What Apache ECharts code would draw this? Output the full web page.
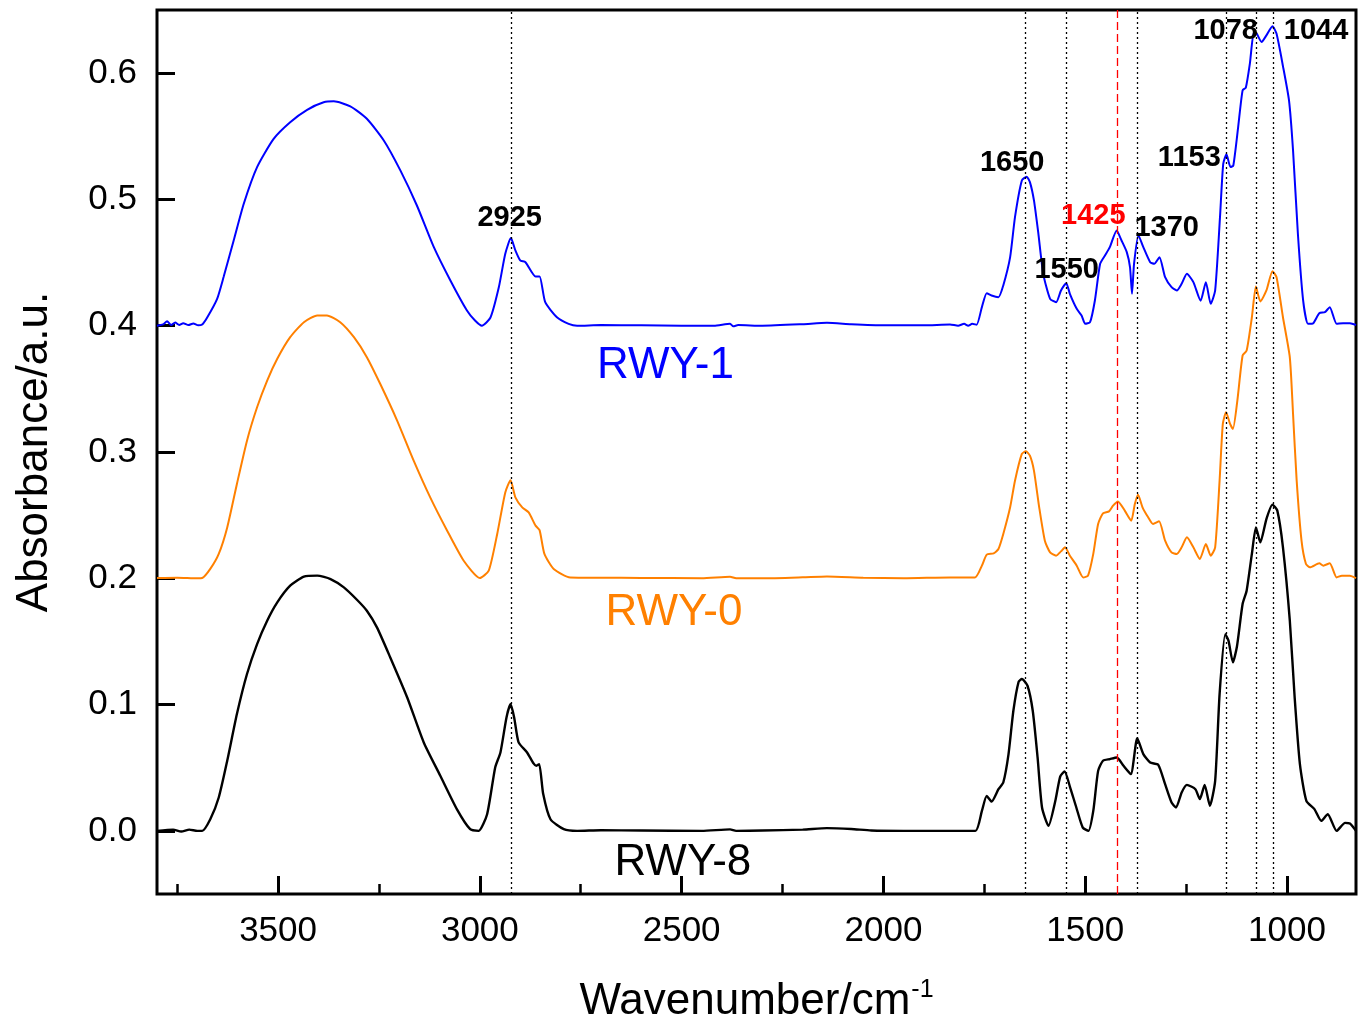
<!DOCTYPE html>
<html>
<head>
<meta charset="utf-8">
<script src="https://cdn.jsdelivr.net/npm/echarts@6/dist/echarts.min.js"></script>
<style>
  html, body { margin: 0; padding: 0; background: #fff; }
  #chart { width: 1364px; height: 1022px; }
</style>
</head>
<body>
<div id="chart"></div>
<script>
// RWY-1 (offset +0.4)
const wn1 = [3800, 3785, 3775, 3765, 3755, 3745, 3735, 3722, 3710, 3698, 3688, 3676, 3651, 3635, 3610, 3585, 3552, 3511, 3470, 3428, 3387, 3362, 3321, 3280, 3238, 3197, 3156, 3114, 3073, 3032, 3012, 2995, 2974, 2953, 2937, 2923, 2912, 2900, 2887, 2862, 2852, 2838, 2809, 2780, 2759, 2700, 2600, 2500, 2420, 2380, 2372, 2360, 2300, 2200, 2140, 2080, 2000, 1900, 1835, 1815, 1800, 1790, 1780, 1769, 1756, 1744, 1732, 1715, 1703, 1686, 1674, 1657, 1645, 1637, 1627, 1616, 1604, 1587, 1572, 1560, 1547, 1538, 1521, 1509, 1500, 1488, 1476, 1463, 1451, 1439, 1422, 1410, 1397, 1389, 1384, 1379, 1368, 1356, 1339, 1329, 1316, 1302, 1286, 1273, 1261, 1248, 1232, 1214, 1201, 1189, 1178, 1166, 1158, 1150, 1140, 1133, 1121, 1110, 1102, 1092, 1082, 1075, 1063, 1051, 1036, 1026, 1010, 995, 985, 973, 960, 948, 935, 920, 906, 894, 877, 861, 844, 829]
const abs1 = [0.400, 0.401, 0.4035, 0.4005, 0.4025, 0.4005, 0.402, 0.4005, 0.4018, 0.4003, 0.401, 0.4063, 0.4213, 0.4385, 0.4675, 0.4966, 0.5256, 0.548, 0.5612, 0.571, 0.5769, 0.5777, 0.5737, 0.5639, 0.5467, 0.523, 0.4952, 0.4622, 0.4358, 0.412, 0.4041, 0.400, 0.4063, 0.4305, 0.457, 0.4694, 0.4596, 0.4517, 0.4503, 0.439, 0.439, 0.4186, 0.4067, 0.4015, 0.400, 0.4005, 0.4003, 0.400, 0.400, 0.4015, 0.3995, 0.4005, 0.400, 0.4012, 0.4023, 0.4012, 0.4003, 0.4003, 0.401, 0.400, 0.4015, 0.400, 0.4015, 0.4008, 0.4147, 0.4258, 0.4239, 0.4226, 0.4319, 0.4543, 0.486, 0.515, 0.518, 0.5137, 0.4992, 0.4728, 0.4411, 0.4213, 0.4186, 0.4279, 0.4337, 0.4253, 0.4134, 0.4081, 0.4015, 0.4028, 0.42, 0.449, 0.4556, 0.4622, 0.4754, 0.4675, 0.4583, 0.4464, 0.4253, 0.449, 0.4715, 0.4622, 0.4503, 0.449, 0.4543, 0.4384, 0.4305, 0.4279, 0.4332, 0.4411, 0.4345, 0.4198, 0.4345, 0.4173, 0.4279, 0.486, 0.5282, 0.5357, 0.5256, 0.5269, 0.5573, 0.5864, 0.5885, 0.6075, 0.6326, 0.6313, 0.6247, 0.6299, 0.6371, 0.6313, 0.6056, 0.5784, 0.5388, 0.4728, 0.42, 0.4015, 0.402, 0.4099, 0.4107, 0.4147, 0.4015, 0.402, 0.402, 0.4006]

// RWY-0 (offset +0.2)
const wn0 = [3800, 3750, 3700, 3688, 3668, 3647, 3626, 3602, 3577, 3552, 3527, 3502, 3470, 3436, 3403, 3379, 3346, 3312, 3280, 3247, 3205, 3164, 3123, 3081, 3040, 3000, 2978, 2957, 2937, 2924, 2912, 2895, 2879, 2862, 2852, 2840, 2817, 2776, 2700, 2600, 2450, 2380, 2365, 2300, 2200, 2140, 2050, 1950, 1835, 1773, 1756, 1744, 1727, 1715, 1703, 1686, 1674, 1657, 1647, 1637, 1627, 1614, 1600, 1587, 1572, 1560, 1550, 1538, 1521, 1505, 1493, 1480, 1468, 1456, 1441, 1431, 1419, 1402, 1386, 1377, 1369, 1358, 1344, 1332, 1317, 1302, 1286, 1273, 1261, 1248, 1232, 1216, 1201, 1189, 1178, 1167, 1159, 1151, 1141, 1134, 1123, 1110, 1100, 1087, 1077, 1066, 1051, 1036, 1026, 1010, 993, 985, 976, 964, 953, 943, 920, 910, 894, 877, 864, 844, 829]
const abs0 = [0.2002, 0.2005, 0.200, 0.2002, 0.2074, 0.2193, 0.2403, 0.2747, 0.309, 0.3354, 0.3566, 0.3738, 0.3909, 0.4028, 0.4081, 0.4081, 0.4028, 0.3909, 0.3751, 0.354, 0.3249, 0.2932, 0.2641, 0.2377, 0.2139, 0.2002, 0.206, 0.2351, 0.268, 0.2776, 0.2641, 0.2562, 0.2522, 0.2417, 0.2381, 0.2193, 0.2074, 0.2007, 0.2005, 0.2003, 0.200, 0.2012, 0.200, 0.200, 0.2008, 0.2015, 0.2005, 0.200, 0.2007, 0.2007, 0.21, 0.2187, 0.2197, 0.2232, 0.2351, 0.2562, 0.2773, 0.2985, 0.3006, 0.2971, 0.2853, 0.2562, 0.2298, 0.2205, 0.2179, 0.2213, 0.2245, 0.2179, 0.21, 0.2007, 0.2021, 0.2193, 0.243, 0.2514, 0.253, 0.2575, 0.2609, 0.2536, 0.2456, 0.2589, 0.2662, 0.2562, 0.2483, 0.243, 0.2451, 0.2298, 0.2205, 0.2193, 0.2245, 0.2324, 0.2245, 0.2153, 0.2271, 0.2179, 0.2245, 0.2773, 0.3222, 0.3315, 0.3222, 0.3183, 0.3407, 0.3764, 0.3803, 0.4067, 0.4311, 0.4192, 0.4279, 0.4432, 0.4385, 0.4067, 0.375, 0.3302, 0.2773, 0.2298, 0.2113, 0.2087, 0.2119, 0.21, 0.2119, 0.2007, 0.2021, 0.2021, 0.2002]

// RWY-8 (no offset)
const wn8 = [3800, 3760, 3740, 3720, 3700, 3688, 3668, 3647, 3626, 3602, 3577, 3552, 3527, 3502, 3470, 3436, 3403, 3370, 3337, 3304, 3280, 3255, 3222, 3180, 3139, 3098, 3057, 3024, 3003, 2982, 2962, 2949, 2934, 2924, 2915, 2904, 2883, 2867, 2860, 2853, 2843, 2825, 2792, 2759, 2700, 2600, 2450, 2380, 2365, 2300, 2200, 2140, 2080, 2030, 1950, 1835, 1772, 1756, 1744, 1732, 1715, 1703, 1690, 1678, 1665, 1657, 1643, 1630, 1618, 1607, 1591, 1574, 1562, 1551, 1538, 1522, 1506, 1492, 1480, 1468, 1456, 1439, 1422, 1405, 1387, 1371, 1356, 1339, 1319, 1302, 1286, 1275, 1261, 1248, 1227, 1216, 1204, 1191, 1178, 1167, 1153, 1145, 1134, 1124, 1110, 1100, 1087, 1077, 1066, 1051, 1036, 1024, 1010, 993, 981, 968, 952, 932, 915, 899, 877, 856, 844, 829]
const abs8 = [0.000, 0.001, -0.0005, 0.001, 0.000, 0.000, 0.0092, 0.0264, 0.0555, 0.0925, 0.1242, 0.1479, 0.1664, 0.1809, 0.1941, 0.2013, 0.2021, 0.1994, 0.1928, 0.1828, 0.1743, 0.1611, 0.1373, 0.1056, 0.070, 0.0436, 0.0172, 0.0013, 0.000, 0.0132, 0.0502, 0.0621, 0.0898, 0.1004, 0.0898, 0.070, 0.0621, 0.0534, 0.0515, 0.0528, 0.0291, 0.0092, 0.0013, 0.000, 0.0005, 0.0003, 0.000, 0.0012, 0.000, 0.0003, 0.001, 0.0022, 0.0015, 0.0003, 0.000, 0.000, 0.000, 0.0158, 0.0277, 0.0232, 0.033, 0.0383, 0.0608, 0.0951, 0.1181, 0.1202, 0.1149, 0.0951, 0.0581, 0.0185, 0.004, 0.0238, 0.043, 0.047, 0.0351, 0.0185, 0.0026, 0.000, 0.0158, 0.0475, 0.0555, 0.0568, 0.0581, 0.0515, 0.0449, 0.0734, 0.0608, 0.0541, 0.0523, 0.037, 0.0225, 0.0185, 0.0304, 0.0364, 0.033, 0.0251, 0.0364, 0.0198, 0.0396, 0.1083, 0.1558, 0.1506, 0.1334, 0.146, 0.1796, 0.1902, 0.2193, 0.2403, 0.2284, 0.2469, 0.2583, 0.2536, 0.2245, 0.1664, 0.1056, 0.0528, 0.0238, 0.0172, 0.0079, 0.0132, 0.000, 0.0063, 0.0058, 0.000]

// axis ticks
const xMajorTicks = [3500, 3000, 2500, 2000, 1500, 1000]
const xMinorTicks = [3750, 3250, 2750, 2250, 1750, 1250]
const yTicks = [0, 0.1, 0.2, 0.3, 0.4, 0.5, 0.6]

// reference lines at band positions
const bandLines = [2923, 1648, 1548, 1370, 1151, 1077, 1034]
const redBandLines = [1420]

// peak annotations
const peakText = ['2925', '1650', '1550', '1425', '1370', '1153', '1078', '1044']
const peakWn = [2926, 1681, 1546, 1480, 1298, 1242, 1152, 928]
const peakAbs = [0.485, 0.5285, 0.4445, 0.4865, 0.4774, 0.5329, 0.6331, 0.6331]
const peakColor = ['#000', '#000', '#000', '#ff0000', '#000', '#000', '#000', '#000']

// sample names
const sampleNames = ['RWY-1', 'RWY-0', 'RWY-8']
const sampleColors = ['#0000ff', '#ff8000', '#000000']
const nameWn = [2540, 2519, 2497]
const nameAbs = [0.368, 0.173, -0.025]

const FONT = '"Liberation Sans", Arial, sans-serif'

function pairs(xs, ys) {
  return xs.map((x, i) => [x, ys[i]])
}

const chart = echarts.init(document.getElementById('chart'))

const xBase = {
  type: 'value',
  min: 829,
  max: 3800,
  inverse: true,
  splitLine: { show: false },
  axisLine: { show: false, onZero: false },
}

function spectrum(name, wn, abs, color, width) {
  return {
    name,
    type: 'line',
    data: pairs(wn, abs),
    showSymbol: false,
    smooth: 0.2,
    lineStyle: { color, width },
    z: 3,
  }
}

function textLayer(name, xs, ys, colors, texts, style) {
  return {
    name,
    type: 'scatter',
    symbolSize: 0,
    silent: true,
    z: 5,
    itemStyle: { opacity: 1 },
    data: xs.map((x, i) => ({
      value: [x, ys[i]],
      label: { color: colors[i] },
    })),
    label: {
      show: true,
      position: 'inside',
      opacity: 1,
      formatter: (p) => texts[p.dataIndex],
      fontFamily: FONT,
      ...style,
    },
  }
}

const black = spectrum('RWY-8', wn8, abs8, '#000', 2.4)
black.markLine = {
  silent: true,
  symbol: 'none',
  label: { show: false },
  data: [
    ...bandLines.map((v) => ({ xAxis: v, lineStyle: { color: '#000', type: [2, 3], width: 1.3 } })),
    ...redBandLines.map((v) => ({ xAxis: v, lineStyle: { color: '#ff0000', type: [8, 4], width: 1.3 } })),
  ],
}

chart.setOption({
  animation: false,
  backgroundColor: '#fff',
  grid: {
    left: 157, right: 8, top: 10, bottom: 128,
    outerBoundsMode: 'none',
    containLabel: false,
    show: true,
    borderColor: '#000',
    borderWidth: 3,
  },
  xAxis: [
    {
      ...xBase,
      name: '{a|Wavenumber/cm}{b|-1}',
      nameLocation: 'middle',
      nameGap: 84,
      nameTextStyle: {
        rich: {
          a: { fontSize: 44, fontFamily: FONT, color: '#000' },
          b: { fontSize: 25, fontFamily: FONT, color: '#000', verticalAlign: 'top', padding: [0, 0, 23, 1] },
        },
      },
      axisTick: { inside: true, length: 18, lineStyle: { width: 3, color: '#000' }, customValues: xMajorTicks },
      axisLabel: {
        customValues: xMajorTicks,
        formatter: (v) => String(v),
        fontSize: 35, fontFamily: FONT, color: '#000', margin: 20,
      },
    },
    {
      ...xBase,
      position: 'bottom',
      axisTick: { inside: true, length: 10, lineStyle: { width: 2.5, color: '#000' }, customValues: xMinorTicks },
      axisLabel: { show: false, customValues: xMinorTicks },
    },
  ],
  yAxis: {
    type: 'value',
    min: -0.05,
    max: 0.65,
    splitLine: { show: false },
    axisLine: { show: false, onZero: false },
    axisTick: { inside: true, length: 18, lineStyle: { width: 3, color: '#000' }, customValues: yTicks },
    axisLabel: {
      customValues: yTicks,
      formatter: (v) => v.toFixed(1),
      fontSize: 35, fontFamily: FONT, color: '#000', margin: 20,
    },
    name: 'Absorbance/a.u.',
    nameLocation: 'middle',
    nameRotate: 90,
    nameGap: 100,
    nameTextStyle: { fontSize: 44, fontFamily: FONT, color: '#000' },
  },
  series: [
    black,
    spectrum('RWY-0', wn0, abs0, '#ff8000', 2),
    spectrum('RWY-1', wn1, abs1, '#0000ff', 2),
    textLayer('peaks', peakWn, peakAbs, peakColor, peakText, { fontSize: 29, fontWeight: 'bold' }),
    textLayer('samples', nameWn, nameAbs, sampleColors, sampleNames, { fontSize: 44 }),
  ],
})

window.addEventListener('resize', () => chart.resize())
</script>
</body>
</html>
